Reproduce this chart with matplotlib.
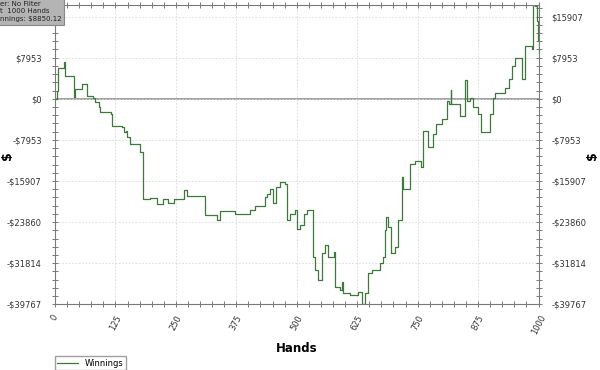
"""
Cumulative winnings over 1000 hands, left and right dollar axes.
"""
import matplotlib
matplotlib.use("Agg")
import matplotlib.pyplot as plt
from matplotlib.ticker import MultipleLocator, FuncFormatter
from matplotlib.patches import Rectangle

# breakpoints of the winnings curve
hands = [0, 5, 7, 17, 19, 21, 39, 40, 41, 52, 55, 62, 66, 79, 83, 90, 93, 116, 117,
         138, 143, 147, 149, 155, 174, 176, 179, 181, 196, 210, 211, 217, 223, 232,
         234, 242, 246, 248, 264, 266, 271, 272, 309, 310, 334, 336, 341, 368, 372,
         396, 403, 414, 427, 434, 438, 445, 451, 457, 465, 472, 476, 479, 486, 492,
         496, 500, 507, 514, 521, 531, 533, 538, 544, 548, 552, 558, 565, 576, 579,
         589, 593, 596, 603, 610, 624, 627, 634, 641, 648, 655, 665, 672, 678, 683,
         685, 689, 694, 703, 709, 717, 720, 731, 734, 745, 751, 758, 761, 765, 771,
         779, 782, 789, 800, 807, 810, 815, 818, 820, 827, 838, 844, 848, 853, 858,
         865, 872, 875, 882, 896, 900, 905, 910, 924, 931, 938, 945, 951, 958, 965,
         969, 972, 982, 987, 988, 993, 996, 998, 1000]
winnings = [0, 1540, 5920, 5970, 7190, 4430, 4430, 390, 1870, 1870, 2830, 2830, 580,
            250, -710, -1680, -2640, -2950, -5200, -5400, -6490, -6170, -7460, -8730,
            -8730, -10350, -10350, -19330, -19170, -19460, -20290, -20290, -19460,
            -19460, -20180, -20180, -19460, -19330, -19330, -17590, -17590, -18880,
            -18880, -22550, -22550, -23510, -21780, -21780, -22220, -22220, -21580,
            -20810, -20810, -19020, -18360, -17400, -20230, -17090, -16130, -16130,
            -16440, -23510, -22220, -22220, -21580, -25110, -24470, -22220, -21580,
            -21580, -30580, -33140, -35070, -35070, -29930, -28330, -30580, -29620,
            -36360, -37000, -35400, -37630, -37630, -37960, -37960, -37320, -39767,
            -37630, -33780, -33140, -33140, -31850, -30580, -25440, -22870, -24800,
            -29930, -28650, -23510, -15170, -17400, -17400, -12580, -11950, -11950,
            -13240, -6170, -6170, -9380, -9380, -6800, -4880, -3910, -3910, -390,
            -1020, 1680, -1020, -1020, -3280, -3280, 3600, -390, 250, -1680, -1680,
            -2950, -6490, -6490, -2950, 250, 1210, 1210, 2180, 3800, 6360, 7960, 7960,
            3800, 3800, 10210, 10210, 9580, 18250, 17920, 15030, 11180, 8850.12]

info_lines = ["er: No Filter", "t  1000 Hands", "nnings: $8850.12"]

LINE = "#3b7a3b"
AXC = "#7a7a7a"
TXT = "#333333"


def dollars(v, pos=None):
    v = round(v)
    return f"-${-v}" if v < 0 else f"${v}"


def main():
    fig = plt.figure(figsize=(6, 3.7), dpi=100)
    ax = fig.add_axes([0.0917, 0.1776, 0.8058, 0.8102])

    ax.plot(hands, winnings, color=LINE, lw=0.9, label="Winnings",
            drawstyle="steps-post")
    ax.axhline(0, color="#9a9a9a", lw=1.3, zorder=1)

    ymin, ymax = min(winnings), max(winnings)
    step = -ymin / 5
    ax.set_xlim(0, 1000)
    ax.set_ylim(ymin, ymax)

    ax.xaxis.set_major_locator(MultipleLocator(125))
    ax.xaxis.set_minor_locator(MultipleLocator(25))
    ax.yaxis.set_major_locator(MultipleLocator(step))
    ax.yaxis.set_minor_locator(MultipleLocator(step / 5))
    ax.yaxis.set_major_formatter(FuncFormatter(dollars))

    ax.grid(True, which="major", color="#d8d8d8", ls=(0, (2, 2)), lw=0.6)
    for s in ax.spines.values():
        s.set_color(AXC)
        s.set_linewidth(0.8)

    ax.tick_params(which="both", direction="inout", color=AXC, width=0.7,
                   top=True, right=True, labelright=True, labelcolor=TXT)
    ax.tick_params(which="major", length=5)
    ax.tick_params(which="minor", length=4)
    ax.tick_params(axis="y", labelsize=6, pad=7)
    ax.tick_params(axis="x", labelsize=6, pad=4)
    for lab in ax.get_xticklabels():
        lab.set_rotation(62)
        lab.set_ha("center")
        lab.set_va("top")

    # the info box covers the top left label in the original
    fig.canvas.draw()
    for loc, tick in zip(ax.get_yticks(), ax.yaxis.get_major_ticks()):
        if loc > 1.5 * step:
            tick.label1.set_visible(False)

    ax.set_xlabel("Hands", fontsize=8.5, fontweight="bold", labelpad=4)
    fig.text(0.012, 0.58, "$", rotation=90, fontsize=9, fontweight="bold",
             ha="center", va="center")
    fig.text(0.988, 0.58, "$", rotation=90, fontsize=9, fontweight="bold",
             ha="center", va="center")

    ax.legend(loc="upper left", bbox_to_anchor=(55 / 600, 1 - 356 / 370),
              bbox_transform=fig.transFigure, fontsize=6, frameon=True,
              fancybox=False, edgecolor="#888888", handlelength=2.5,
              borderpad=0.3, borderaxespad=0)

    # info box, partly off the canvas
    fig.patches.append(Rectangle((-0.01, 1 - 25 / 370), 0.117, 0.08,
                                 transform=fig.transFigure, facecolor="#b4b4b4",
                                 edgecolor="#888888", lw=0.8, zorder=5))
    fig.text(0.0, 1 - 1 / 370, "\n".join(info_lines), fontsize=5,
             color="#222222", ha="left", va="top", linespacing=1.25, zorder=6)

    fig.savefig("out.png", dpi=100)


if __name__ == "__main__":
    main()
